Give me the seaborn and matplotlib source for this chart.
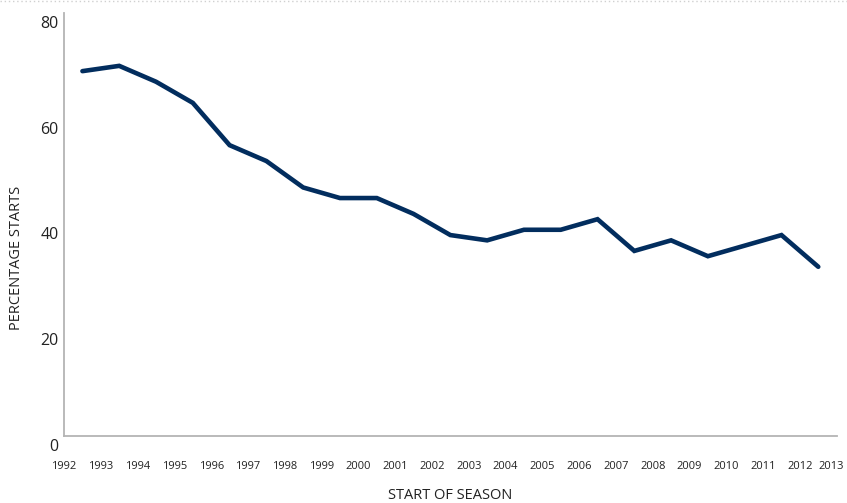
import matplotlib
matplotlib.use('Agg')
import matplotlib.pyplot as plt
import matplotlib.transforms as mtransforms
import seaborn as sns
import pandas as pd
from matplotlib.lines import Line2D

sns.set_style('white')
plt.rcParams['font.family'] = ['Open Sans', 'DejaVu Sans']

# Season start years and percentage of starts
seasons = [1992, 1993, 1994, 1995, 1996, 1997, 1998, 1999, 2000, 2001, 2002,
           2003, 2004, 2005, 2006, 2007, 2008, 2009, 2010, 2011, 2012]
pct_starts = [69, 70, 67, 63, 55, 52, 47, 45, 45, 42, 38,
              37, 39, 39, 41, 35, 37, 34, 36, 38, 32]
year_ticks = list(range(1992, 2014))
y_ticks = [0, 20, 40, 60, 80]

df = pd.DataFrame({'season': seasons, 'pct': pct_starts})
# points sit in the middle of each season interval
df['xpos'] = df['season'] + 0.5

axis_grey = '#b4b4b4'
line_blue = '#022d5e'
text_col = '#222222'

fig = plt.figure(figsize=(8.47, 5.03), dpi=100)
ax = fig.add_axes([0.0756, 0.1332, 0.9122, 0.841])

sns.lineplot(data=df, x='xpos', y='pct', ax=ax, color=line_blue, linewidth=3.3,
             solid_joinstyle='miter')

ax.set_xlim(1992, 2013)
ax.set_ylim(0, 80)

for side in ['top', 'right']:
    ax.spines[side].set_visible(False)
for side in ['left', 'bottom']:
    ax.spines[side].set_color(axis_grey)
    ax.spines[side].set_linewidth(1.3)

ax.tick_params(axis='x', direction='in', length=7.5, width=1.1, color=axis_grey, pad=18)
ax.tick_params(axis='y', direction='in', length=13, width=1.1, color=axis_grey, pad=4)

ax.set_xticks(year_ticks)
ax.set_xticklabels([str(y) for y in year_ticks], fontsize=8, color=text_col)
ax.set_yticks(y_ticks)
ax.set_yticklabels([str(v) for v in y_ticks], fontsize=11.5, color=text_col,
                   va='top')

# nudge y labels a little below their ticks (after tick_params, which resets transforms)
down = mtransforms.ScaledTranslation(0, -3 / 100, fig.dpi_scale_trans)
for lbl in ax.get_yticklabels():
    lbl.set_transform(lbl.get_transform() + down)
# keep the last year label inside the figure
left = mtransforms.ScaledTranslation(-5 / 100, 0, fig.dpi_scale_trans)
last = ax.get_xticklabels()[-1]
last.set_transform(last.get_transform() + left)

ax.set_xlabel('START OF SEASON', fontsize=10.5, color=text_col)
ax.set_ylabel('PERCENTAGE STARTS', fontsize=10.5, color=text_col)
ax.yaxis.set_label_coords(-0.052, 0.42)
ax.xaxis.set_label_coords(0.50, -0.122)

# faint dotted border along the top edge
fig.add_artist(Line2D([0, 1], [0.998, 0.998], transform=fig.transFigure,
                      color='#d0d0d0', linewidth=1, linestyle=(0, (1, 2))))

plt.savefig('out.png', dpi=100)
plt.close()
